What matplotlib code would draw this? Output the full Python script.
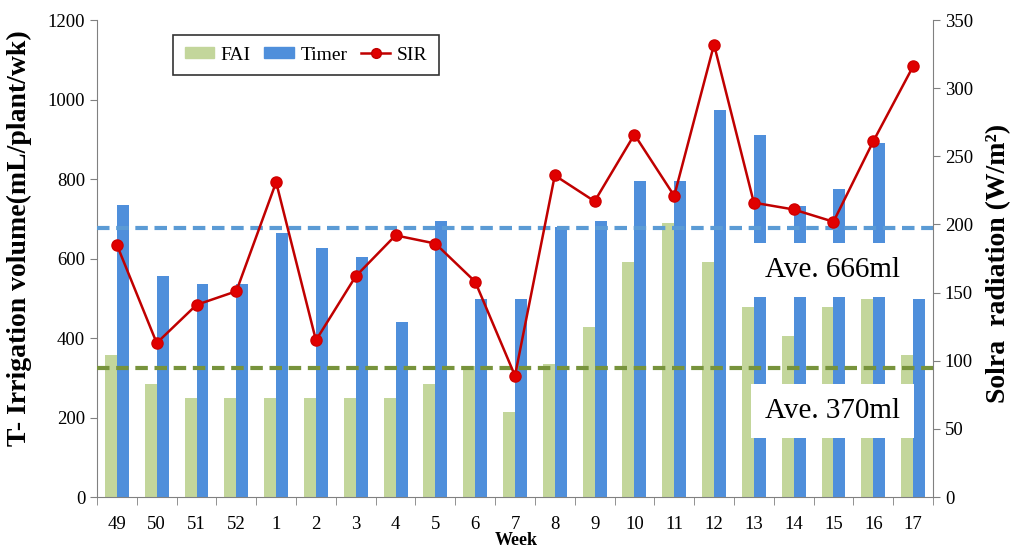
import matplotlib.pyplot as plt
import numpy as np
from matplotlib.lines import Line2D
from matplotlib.patches import Patch

plt.rcParams['font.family'] = ['Liberation Serif', 'DejaVu Serif']

# Semanas e dados
semanas = ['49', '50', '51', '52', '1', '2', '3', '4', '5', '6', '7',
           '8', '9', '10', '11', '12', '13', '14', '15', '16', '17']
fai = [358, 284, 250, 250, 250, 250, 250, 250, 284, 330, 215,
       335, 428, 592, 690, 592, 478, 405, 478, 498, 358]
timer = [734, 556, 537, 537, 664, 626, 605, 440, 694, 498, 498,
         680, 694, 795, 795, 973, 911, 732, 775, 891, 498]
sir = [185, 113, 141, 151, 231, 115, 162, 192, 186, 158, 89,
       236, 217, 266, 221, 332, 216, 211, 202, 261, 316]
media_timer = 677
media_fai = 325

cor_fai = '#C3D69B'
cor_timer = '#4F8FDB'
cor_sir = '#C00000'

fig = plt.figure(figsize=(10.22, 5.57), dpi=100)
ax = fig.add_axes([0.0949, 0.1077, 0.818, 0.8563])
x = np.arange(len(semanas))
w = 0.3

ax.bar(x - w / 2, fai, width=w, color=cor_fai, zorder=2)
ax.bar(x + w / 2, timer, width=w, color=cor_timer, zorder=2)

ax.axhline(media_timer, color='#5B9BD5', ls=(0, (3, 1.6)), lw=3, zorder=5)
ax.axhline(media_fai, color='#77933C', ls=(0, (3, 1.6)), lw=3, zorder=5)

ax.set_xlim(-0.5, len(semanas) - 0.5)
ax.set_ylim(0, 1200)
ax.set_yticks(range(0, 1201, 200))
ax.set_xticks(x)
ax.set_xticklabels(semanas)
ax.set_xticks(np.arange(-0.5, len(semanas), 1), minor=True)
ax.tick_params(axis='x', which='major', length=0, pad=14, labelsize=13.5)
ax.tick_params(axis='x', which='minor', length=6, color='#808080')
ax.tick_params(axis='y', labelsize=13.5, color='#808080', length=5)
for s in ['left', 'bottom']:
    ax.spines[s].set_color('#808080')
ax.spines['top'].set_visible(False)
ax.spines['right'].set_visible(False)
ax.set_ylabel('T- Irrigation volume(mL/plant/wk)', fontsize=20,
              fontweight='bold')
ax.yaxis.set_label_coords(-0.078, 0.543)

# Eixo secundário para radiação
ax2 = ax.twinx()
ax2.plot(x, sir, color=cor_sir, lw=1.8, marker='o', ms=8,
         markerfacecolor='#E00000', markeredgecolor='#D00000', zorder=6)
ax2.set_ylim(0, 350)
ax2.set_yticks(range(0, 351, 50))
ax2.tick_params(axis='y', labelsize=13.5, color='#808080', length=5)
ax2.spines['right'].set_color('#808080')
ax2.spines['top'].set_visible(False)
ax2.spines['left'].set_visible(False)
ax2.spines['bottom'].set_visible(False)
ax2.set_ylabel('Solra  radiation (W/m²)', fontsize=20, fontweight='bold')
ax2.yaxis.set_label_coords(1.064, 0.49)

# Caixas de texto com as médias
ax2.text(0.88, 0.475, 'Ave. 666ml', transform=ax.transAxes, ha='center',
         va='center', fontsize=21, zorder=10,
         bbox=dict(facecolor='white', edgecolor='none', pad=10))
ax2.text(0.88, 0.181, 'Ave. 370ml', transform=ax.transAxes, ha='center',
         va='center', fontsize=21, zorder=10,
         bbox=dict(facecolor='white', edgecolor='none', pad=10))

fig.text(0.505, 0.015, 'Week', ha='center', va='bottom', fontsize=13,
         fontweight='bold')

handles = [Patch(color=cor_fai, label='FAI'),
           Patch(color=cor_timer, label='Timer'),
           Line2D([0], [0], color=cor_sir, lw=1.8, marker='o', ms=7,
                  markerfacecolor='#E00000', label='SIR')]
leg = ax2.legend(handles=handles, loc='upper left',
                 bbox_to_anchor=(0.091, 0.969), borderaxespad=0, ncol=3,
                 fontsize=14, frameon=True, fancybox=False,
                 edgecolor='black', handlelength=1.5, handleheight=0.5,
                 handletextpad=0.35, columnspacing=0.7, borderpad=0.6)
leg.get_frame().set_linewidth(1.2)
leg.set_zorder(12)

fig.savefig('out.png', dpi=100)
